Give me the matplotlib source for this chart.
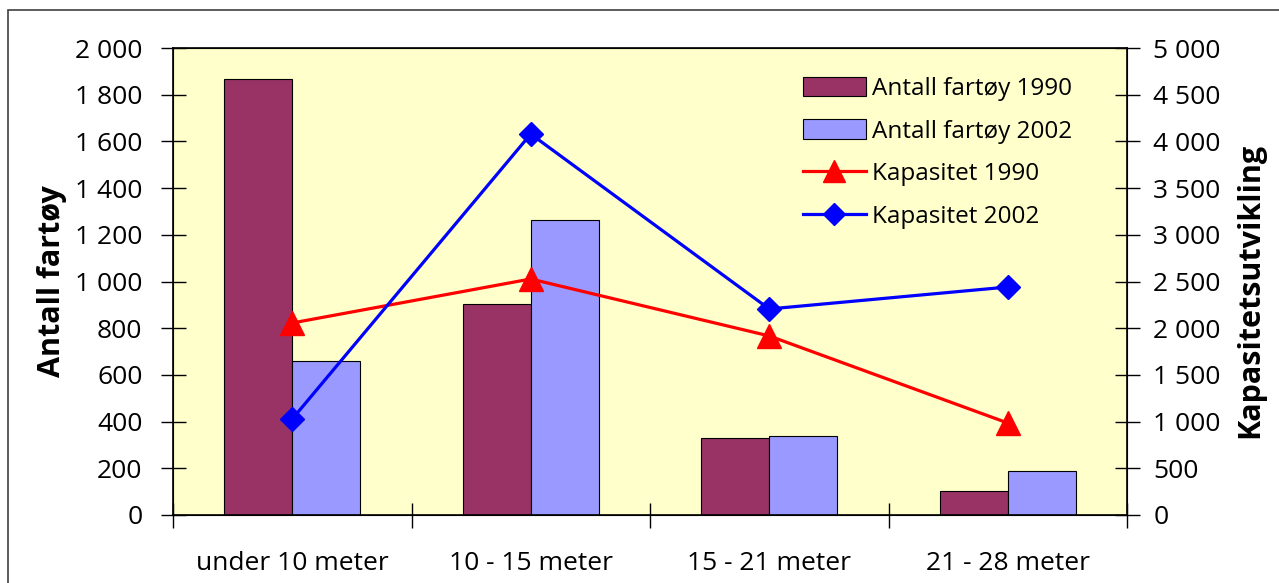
import numpy as np
import matplotlib
matplotlib.use("Agg")
import matplotlib.pyplot as plt
from matplotlib.patches import Rectangle

plt.rcParams['font.family'] = ['Open Sans', 'DejaVu Sans']

# Data
categories = ["under 10 meter", "10 - 15 meter", "15 - 21 meter", "21 - 28 meter"]
fartoy_1990 = [1867, 904, 330, 103]
fartoy_2002 = [660, 1263, 338, 188]
kap_1990 = [2056, 2527, 1917, 985]
kap_2002 = [1028, 4079, 2206, 2441]
left_ticks = [0, 200, 400, 600, 800, 1000, 1200, 1400, 1600, 1800, 2000]
right_ticks = [0, 500, 1000, 1500, 2000, 2500, 3000, 3500, 4000, 4500, 5000]


def fmt(v):
    return f"{v:,}".replace(",", " ")


fig = plt.figure(figsize=(12.79, 5.83), dpi=100)
fig.patch.set_facecolor("white")
# outer chart frame (runs off right/bottom edge)
fig.patches.append(Rectangle((8 / 1279, -0.05), 1.1, 1 - 10 / 583 + 0.05,
                             transform=fig.transFigure, fill=False,
                             edgecolor="#404040", linewidth=1.2, clip_on=False))

ax = fig.add_axes([173 / 1279, 68 / 583, 954 / 1279, 467 / 583])
ax.set_facecolor("#FFFFCC")
x = np.arange(len(categories))
w = 1 / 3.5

b1 = ax.bar(x - w / 2, fartoy_1990, w, color="#993366", edgecolor="black",
            linewidth=0.8, label="Antall fartøy 1990", zorder=2)
b2 = ax.bar(x + w / 2, fartoy_2002, w, color="#9999FF", edgecolor="black",
            linewidth=0.8, label="Antall fartøy 2002", zorder=2)

ax.set_xlim(-0.5, len(categories) - 0.5)
ax.set_ylim(0, 2000)
ax.set_yticks(left_ticks)
ax.set_yticklabels([fmt(v) for v in left_ticks])
ax.set_xticks(np.arange(-0.5, len(categories)), labels=[])
ax.set_xticks(x, minor=True)
ax.set_xticklabels(categories, minor=True)
ax.tick_params(axis="x", which="major", direction="inout", length=18, width=1)
ax.tick_params(axis="x", which="minor", length=0, pad=26, labelsize=19)
ax.tick_params(axis="y", direction="inout", length=18, width=1, labelsize=19, pad=13)
ax.set_ylabel("Antall fartøy", fontsize=22, fontweight="bold")
ax.yaxis.set_label_coords(-0.111, 0.5)
for s in ax.spines.values():
    s.set_linewidth(1.2)

ax2 = ax.twinx()
l1, = ax2.plot(x, kap_1990, color="#FF0000", linewidth=2.3, marker="^",
               markersize=17, label="Kapasitet 1990", zorder=3)
l2, = ax2.plot(x, kap_2002, color="#0000FF", linewidth=2.3, marker="D",
               markersize=12, label="Kapasitet 2002", zorder=3)
ax2.set_ylim(0, 5000)
ax2.set_yticks(right_ticks)
ax2.set_yticklabels([fmt(v) for v in right_ticks])
ax2.tick_params(axis="y", direction="inout", length=18, width=1, labelsize=19, pad=10)
ax2.set_ylabel("Kapasitetsutvikling", fontsize=22, fontweight="bold", rotation=90)
ax2.yaxis.set_label_coords(1.113, 0.48)

leg = ax2.legend(handles=[b1, b2, l1, l2], loc="upper left",
                 bbox_to_anchor=(0.637, 0.985), frameon=False, fontsize=17.5,
                 handlelength=2.6, handleheight=0.85, labelspacing=0.76,
                 handletextpad=0.25, markerscale=0.9)

fig.savefig("out.png", dpi=100)
